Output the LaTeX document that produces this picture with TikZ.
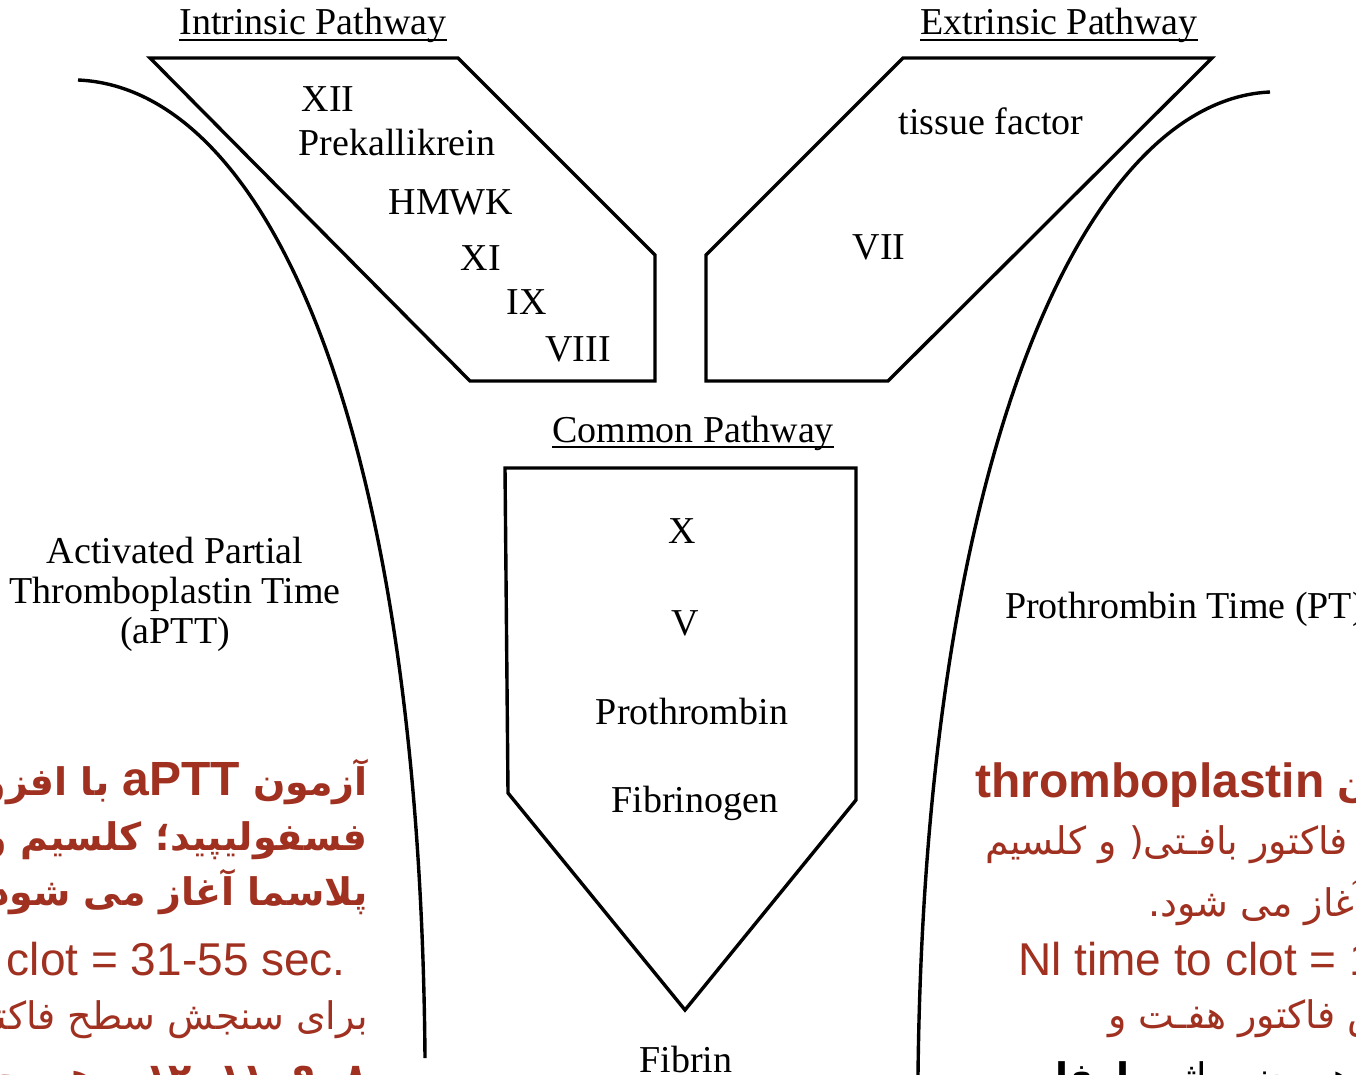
\documentclass[tikz,border=0pt]{standalone}
\usepackage{fontspec}
\setmainfont{Liberation Serif}
\newfontfamily\sansfont{Liberation Sans}
\newfontfamily\fafont[Script=Arabic]{DejaVu Sans}
\TeXXeTstate=1
\usetikzlibrary{calc}
\definecolor{clotred}{RGB}{160,48,32}

\tikzset{
  lbl/.style={inner sep=0pt, font=\fontsize{38}{40}\selectfont},
  pathbox/.style={draw, line width=3.4pt, line join=miter},
  arc/.style={draw, line width=3.4pt},
  uline/.style={draw, line width=1.6pt},
  fareg/.style={inner sep=0pt, text=clotred, font=\fontsize{38}{46}\fafont},
  fabold/.style={inner sep=0pt, text=clotred, font=\fontsize{38}{46}\fafont\bfseries},
  latred/.style={inner sep=0pt, text=clotred, font=\fontsize{46}{52}\sansfont},
}
\newcommand{\latbold}[1]{{\sansfont\bfseries\fontsize{48}{52}\selectfont #1}}

\begin{document}
\begin{tikzpicture}[x=1pt, y=-1pt]
\useasboundingbox (0,0) rectangle (1356,1075);
\clip (0,0) rectangle (1356,1075);
\fill[white] (0,0) rectangle (1356,1075);

% pathway outlines
\draw[pathbox] (150,58) -- (458,58) -- (655,255) -- (655,381) -- (470,381) -- cycle;
\draw[pathbox] (903,58) -- (1212,58) -- (888,381) -- (706,381) -- (706,255) -- cycle;
\draw[pathbox] (505,468) -- (856,468) -- (856,800) -- (685,1010) -- (508,793) -- cycle;

% bracketing curves of the two tests
\coordinate (la) at (78,80);
\coordinate (lb) at (425,1058);
\coordinate (ra) at (1270,92);
\coordinate (rb) at (918,1075);
\draw[arc] (la) .. controls (265,88) and (420,420) .. (lb);
\draw[arc] (ra) .. controls (1090,100) and (925,440) .. (rb);

% titles
\node[lbl, anchor=base] (tint) at (313,35) {Intrinsic Pathway};
\node[lbl, anchor=base] (text) at (1059,35) {Extrinsic Pathway};
\node[lbl, anchor=base] (tcom) at (693,442) {Common Pathway};
\foreach \t in {tint,text,tcom}
  \draw[uline] ($(\t.base west)+(0,5)$) -- ($(\t.base east)+(0,5)$);

% intrinsic factors
\node[lbl, anchor=base] (f12) at (328,112) {XII};
\node[lbl, anchor=base] (pk) at (397,156) {Prekallikrein};
\node[lbl, anchor=base] (hmwk) at (451,215) {HMWK};
\node[lbl, anchor=base] (f11) at (481,270) {XI};
\node[lbl, anchor=base] (f9) at (527,314) {IX};
\node[lbl, anchor=base] (f8) at (578,361) {VIII};

% extrinsic factors
\node[lbl, anchor=base] (tf) at (991,135) {tissue factor};
\node[lbl, anchor=base] (f7) at (879,259) {VII};

% common factors
\node[lbl, anchor=base] (f10) at (682,543) {X};
\node[lbl, anchor=base] (f5) at (685,635) {V};
\node[lbl, anchor=base] (pro) at (692,724) {Prothrombin};
\node[lbl, anchor=base] (fbg) at (695,812) {Fibrinogen};
\node[lbl, anchor=base] (fib) at (686,1072) {Fibrin};

% test names
\node[lbl, align=center] (aptt) at (175,594) {Activated Partial\\Thromboplastin Time\\(aPTT)};
\node[lbl, anchor=base west] (pt) at (1005,618) {Prothrombin Time (PT)};

% aPTT notes
\node[fabold, anchor=base east] (l1) at (368,795) {\beginR آزمون \latbold{aPTT} با افزودن\endR};
\node[fabold, anchor=base east] (l2) at (368,850) {\beginR فسفولیپید؛ کلسیم و سرم\endR};
\node[fabold, anchor=base east] (l3) at (368,905) {\beginR پلاسما آغاز می شود.\endR};
\node[latred, anchor=base east] (l4) at (346,975) {Nl time to clot = 31-55 sec.};
\node[fareg, anchor=base east] (l5) at (368,1029) {\beginR برای سنجش سطح فاکتورهای\endR};
\node[fabold, anchor=base east] (l6) at (368,1090) {\beginR ۸، ۹، ۱۱، ۱۲ و هم چنین اثر هپارین\endR};

% PT notes
\node[fabold, anchor=base west] (r1) at (975,797) {\beginR آزمون PT با افزودن \latbold{thromboplastin}\endR};
\node[fareg, anchor=base west] (r2) at (985,854) {\beginR فاکتور بافـتی( و کلسیم\endR};
\node[fareg, anchor=base west] (r3) at (1148,916) {\beginR آغاز می شود.\endR};
\node[latred, anchor=base west] (r4) at (1018,975) {Nl time to clot = 11-13.5 sec.};
\node[fareg, anchor=base west] (r5) at (1108,1028) {\beginR برای سنجش فاکتور هفـت و\endR};
\node[fareg, anchor=base west, text=black] (r6) at (985,1090) {\beginR هم چنین اثر {\bfseries وارفارین}\endR};
\end{tikzpicture}
\end{document}
